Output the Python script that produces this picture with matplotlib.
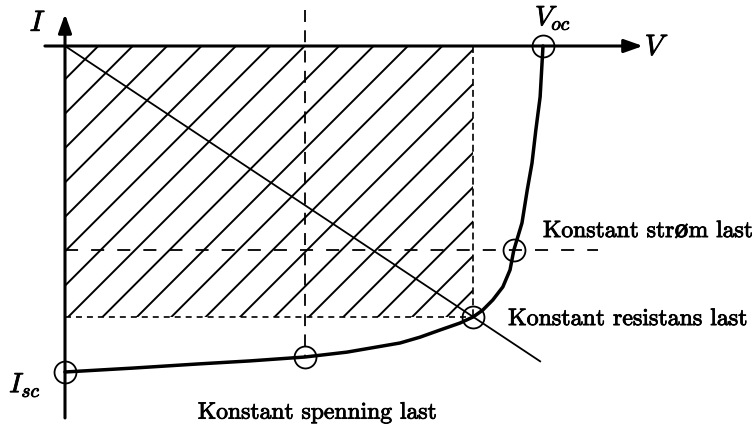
import matplotlib
matplotlib.use("Agg")
import matplotlib.pyplot as plt
import matplotlib.patheffects as pe
import numpy as np
from matplotlib.patches import Rectangle

plt.rcParams['mathtext.fontset'] = 'cm'
plt.rcParams['lines.scale_dashes'] = False

# I-V curve of the cell, normalised so that Voc = 1 and Isc = 1
v_curve = [0.0, 0.142, 0.282, 0.387, 0.502, 0.590, 0.701, 0.743, 0.785, 0.826, 0.854,
           0.874, 0.895, 0.916, 0.931, 0.939, 0.956, 0.967, 0.977, 0.985, 0.994, 1.0]
i_curve = [-1.0, -0.988, -0.975, -0.966, -0.954, -0.939, -0.911, -0.893, -0.871, -0.850, -0.831,
           -0.810, -0.779, -0.739, -0.687, -0.626, -0.543, -0.442, -0.359, -0.258, -0.156, 0.0]

# operating points: Isc, constant voltage, constant resistance, constant current, Voc
v_points = [0.0, 0.502, 0.854, 0.939, 1.0]
i_points = [-1.0, -0.954, -0.831, -0.626, 0.0]

v_res_end = 0.994   # where the resistance load line stops

label_strom = "Konstant strøm last"
label_res = "Konstant resistans last"
label_spenning = "Konstant spenning last"

# pixel layout of the drawing
W, H = 752, 426
ORIGIN = (65, 46)
PX_V, PX_I = 478.0, 326.0


def hatch_box(ax, v1, i1, first=33.3, step=34.4):
    # 45 degree hatching between the origin and (v1, i1), clipped to the box
    box = Rectangle((0, i1), v1, -i1, fill=False, lw=0)
    ax.add_patch(box)
    to_disp = ax.transData
    to_data = ax.transData.inverted()
    x0, y0 = to_disp.transform((0, 0))
    x1, y1 = to_disp.transform((v1, i1))
    depth = y0 - y1
    for d in np.arange(first, (x1 - x0) + depth + step, step):
        ts = np.array([-5, depth + 5])
        pts = np.column_stack([x0 + d - ts, y0 - ts])
        pts = to_data.transform(pts)
        ln, = ax.plot(pts[:, 0], pts[:, 1], color='k', lw=1.4)
        ln.set_clip_path(box)


fig = plt.figure(figsize=(W / 100, H / 100), dpi=100)
ax = fig.add_axes([0, 0, 1, 1])
ax.set_xlim(-ORIGIN[0] / PX_V, (W - ORIGIN[0]) / PX_V)
ax.set_ylim(-(H - ORIGIN[1]) / PX_I, ORIGIN[1] / PX_I)
ax.axis('off')

# axes with arrow heads
arrow = dict(arrowstyle='-|>,head_length=0.45,head_width=0.16', lw=2.2,
             color='k', mutation_scale=25, shrinkA=0, shrinkB=0)
ax.annotate('', xy=(0, 0.098), xytext=(0, -1.141), arrowprops=arrow)
ax.annotate('', xy=(1.209, 0), xytext=(-0.042, 0), arrowprops=arrow)

hatch_box(ax, v_points[2], i_points[2])

# load lines
v_sp, v_r, v_st = v_points[1], v_points[2], v_points[3]
i_sp, i_r, i_st = i_points[1], i_points[2], i_points[3]
ax.plot([v_sp, v_sp], [0.11, i_sp], color='k', lw=1.3, dashes=(8.6, 6.0))
ax.plot([0, 1.115], [i_st, i_st], color='k', lw=1.3, dashes=(9.4, 9.4))
ax.plot([0, v_r], [i_r, i_r], color='k', lw=1.2, dashes=(4.3, 3.6))
ax.plot([v_r, v_r], [0, i_r], color='k', lw=1.2, dashes=(5.0, 2.9))
ax.plot([0, v_res_end], [0, i_r / v_r * v_res_end], color='k', lw=1.3)

ax.plot(v_curve, i_curve, color='k', lw=2.5, solid_capstyle='round',
        solid_joinstyle='round')
ax.plot(v_points, i_points, 'o', ms=15.8, mfc='none', mec='k', mew=1.3)

ink = [pe.withStroke(linewidth=0.6, foreground='k')]
ax.text(-0.0565, 0.0706, r'$I$', fontsize=21, ha='center', va='center', path_effects=ink)
ax.text(1.2385, -0.003, r'$V$', fontsize=21, ha='center', va='center', path_effects=ink)
ax.text(1.021, 0.086, r'$V_{oc}$', fontsize=20, ha='center', va='center', path_effects=ink)
ax.text(-0.0837, -1.040, r'$I_{sc}$', fontsize=20, ha='center', va='center', path_effects=ink)

serif = ['cmr10', 'DejaVu Serif']
ax.text(1.0, -0.586, label_strom, fontsize=17, family=serif, ha='left', va='baseline',
        path_effects=ink)
ax.text(0.927, -0.856, label_res, fontsize=17.2, family=serif, ha='left', va='baseline',
        path_effects=ink)
ax.text(0.527, -1.143, label_spenning, fontsize=17, family=serif, ha='center', va='baseline',
        path_effects=ink)

fig.savefig('out.png', dpi=100)
